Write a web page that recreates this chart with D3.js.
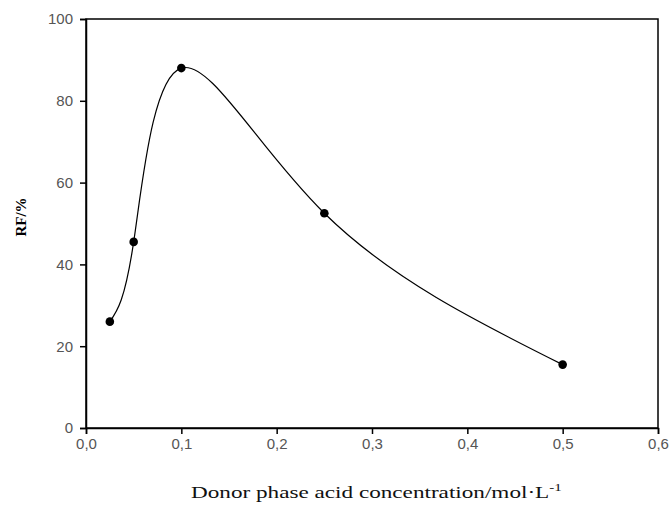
<!DOCTYPE html>
<html>
<head>
<meta charset="utf-8">
<script src="https://cdn.jsdelivr.net/npm/d3@7"></script>
<style>
  body { margin: 0; background: #fff; }
</style>
</head>
<body>
<script>
// Data
const concentrations = [0.025, 0.05, 0.1, 0.25, 0.5];
const rfValues = [26, 45.5, 88, 52.5, 15.5];
const xTicks = [0, 0.1, 0.2, 0.3, 0.4, 0.5, 0.6];
const yTicks = [0, 20, 40, 60, 80, 100];

const width = 671, height = 505;
const plotLeft = 86, plotRight = 658, plotTop = 19, plotBottom = 428;

const svg = d3.select('body').append('svg')
    .attr('width', width)
    .attr('height', height);

const x = d3.scaleLinear().domain([0, 0.6]).range([plotLeft, plotRight]);
const y = d3.scaleLinear().domain([0, 100]).range([plotBottom, plotTop]);

// frame
svg.append('rect')
    .attr('x', plotLeft).attr('y', plotTop)
    .attr('width', plotRight - plotLeft).attr('height', plotBottom - plotTop)
    .attr('fill', 'none').attr('stroke', '#000').attr('stroke-width', 1.5);

const fmt = d => d3.format('.1f')(d).replace('.', ',');

const xAxis = svg.append('g')
    .attr('transform', `translate(0,${plotBottom})`)
    .call(d3.axisBottom(x).tickValues(xTicks).tickFormat(fmt).tickSize(6).tickPadding(4));

const yAxis = svg.append('g')
    .attr('transform', `translate(${plotLeft},0)`)
    .call(d3.axisLeft(y).tickValues(yTicks).tickSize(6).tickPadding(7));

[xAxis, yAxis].forEach(g => {
    g.select('.domain').attr('stroke', '#000').attr('stroke-width', 1.5);
    g.selectAll('.tick line').attr('stroke', '#000').attr('stroke-width', 1.5);
    g.selectAll('.tick text')
        .attr('fill', '#555')
        .style('font-family', 'Arial, "Liberation Sans", sans-serif')
        .style('font-size', '15px');
});

const pts = concentrations.map((c, i) => [c, rfValues[i]]);

const line = d3.line()
    .x(d => x(d[0]))
    .y(d => y(d[1]))
    .curve(d3.curveNatural);

svg.append('path')
    .datum(pts)
    .attr('d', line)
    .attr('fill', 'none')
    .attr('stroke', '#000')
    .attr('stroke-width', 1.2);

svg.append('g').selectAll('circle')
    .data(pts)
    .join('circle')
    .attr('cx', d => x(d[0]))
    .attr('cy', d => y(d[1]))
    .attr('r', 4.3)
    .attr('fill', '#000');

// axis titles
svg.append('text')
    .attr('transform', 'translate(26,217) rotate(-90)')
    .attr('text-anchor', 'middle')
    .style('font-family', '"Liberation Serif", "Times New Roman", serif')
    .style('font-size', '15px')
    .style('font-weight', 'bold')
    .text('RF/%');

// x title, stretched horizontally to the width seen in the chart
const xtGroup = svg.append('g');
const xt = xtGroup.append('text')
    .attr('x', 0)
    .attr('y', 0)
    .style('font-family', '"Liberation Serif", "Times New Roman", serif')
    .style('font-size', '17px')
    .attr('fill', '#111');
xt.append('tspan').text('Donor phase acid concentration/mol·L');
xt.append('tspan').attr('dy', -7).style('font-size', '11px').text('-1');
const w = xt.node().getComputedTextLength();
const targetW = 371;
xtGroup.attr('transform', `translate(191,498) scale(${targetW / w},1)`);
</script>
</body>
</html>
